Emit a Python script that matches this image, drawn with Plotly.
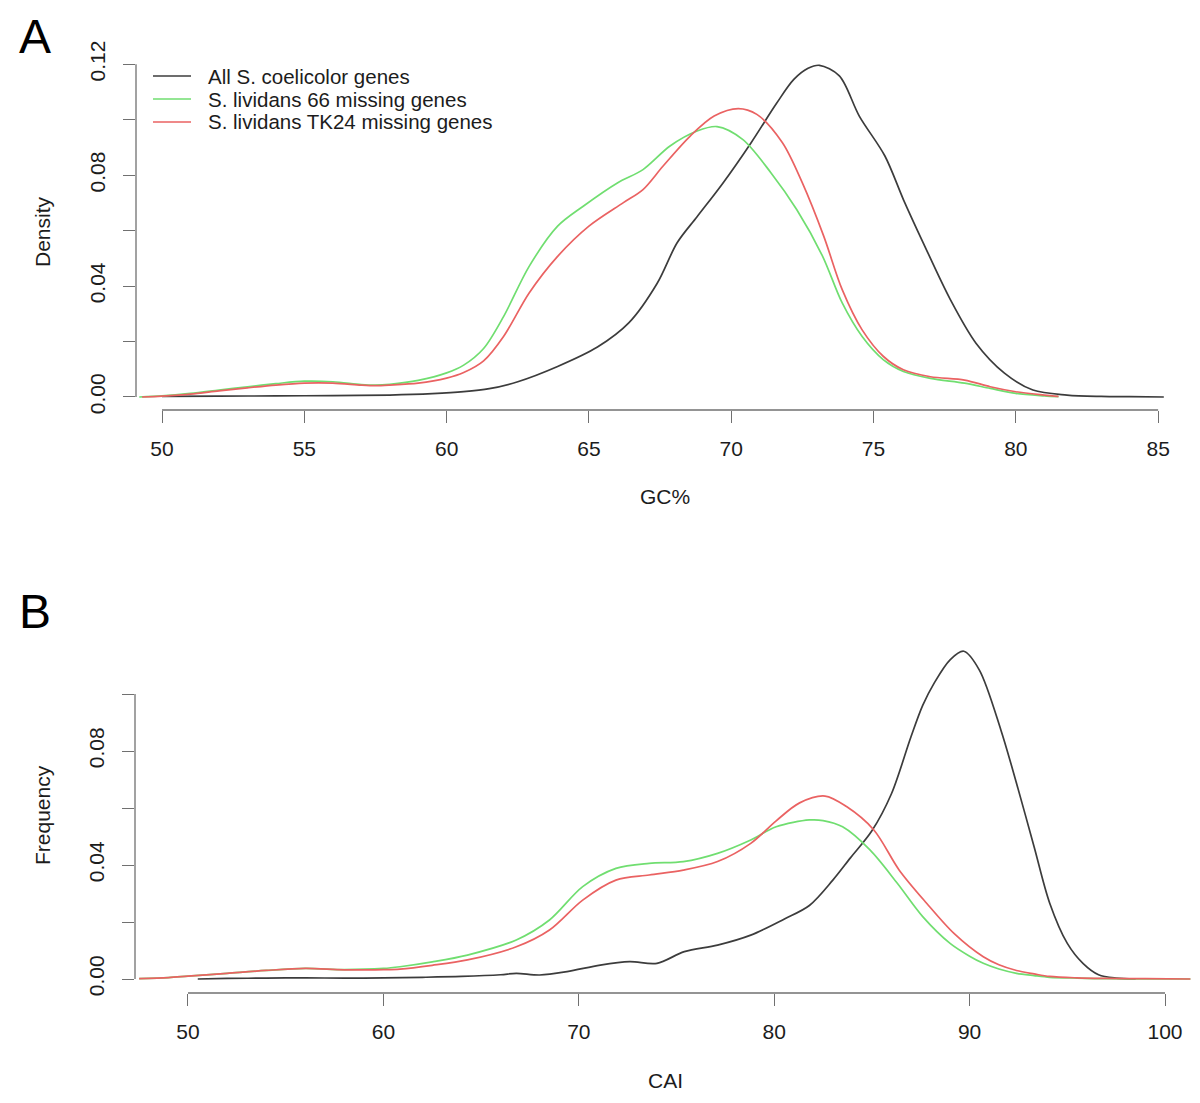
import plotly.graph_objects as go

# ---------------- Data ----------------
# Panel A: GC% density
gc_all_x = [50.0, 52, 54, 56, 58, 59.5, 60.6, 61.5, 62.5, 63.9, 65.3, 66.4, 67.4, 68.1, 68.8, 69.7,
            70.7, 71.6, 72.2, 72.7, 73.1, 73.8, 74.5, 75.4, 76.05, 76.75, 77.7, 78.6, 79.6, 80.6,
            81.8, 83.0, 84.0, 85.2]
gc_all_y = [0.0002, 0.0003, 0.0004, 0.0005, 0.0007, 0.0012, 0.0019, 0.003, 0.0055, 0.011, 0.018,
            0.0267, 0.041, 0.0556, 0.065, 0.077, 0.0917, 0.106, 0.1145, 0.1185, 0.1196, 0.1158,
            0.1013, 0.0869, 0.0712, 0.0555, 0.0351, 0.0194, 0.0086, 0.0025, 0.0007, 0.0002,
            0.0001, 0.0]

gc_66_x = [49.2, 50, 51, 52, 53, 54, 55, 56, 57, 57.5, 58, 59.0, 60.0, 60.6, 61.3, 62.0, 62.9,
           63.9, 64.8, 66.0, 66.9, 67.85, 68.8, 69.5, 70.4, 71.4, 72.3, 73.2, 73.9, 74.6, 75.35,
           76.05, 77.0, 78.2, 79.1, 80.0, 81.0, 81.5]
gc_66_y = [0.0, 0.0004, 0.0013, 0.0025, 0.0037, 0.0048, 0.0057, 0.0055, 0.0045, 0.0043, 0.0046,
           0.006, 0.0087, 0.0115, 0.0175, 0.029, 0.0471, 0.0616, 0.0688, 0.0772, 0.082, 0.0905,
           0.0959, 0.0975, 0.0929, 0.0808, 0.0676, 0.051, 0.0339, 0.0218, 0.0134, 0.0092,
           0.0067, 0.005, 0.0031, 0.0013, 0.0004, 0.0001]

gc_tk24_x = [49.3, 50, 51, 52, 53, 54, 55, 56, 57, 57.5, 58, 59.0, 60.0, 60.6, 61.3, 62.0, 62.9,
             63.9, 65.0, 66.2, 66.9, 67.6, 68.55, 69.4, 70.25, 70.9, 71.8, 72.5, 73.25, 73.9,
             74.6, 75.35, 76.05, 77.0, 78.2, 79.1, 80.0, 81.0, 81.5]
gc_tk24_y = [0.0, 0.0003, 0.001, 0.0022, 0.0033, 0.0043, 0.005, 0.005, 0.0043, 0.0041, 0.0043,
             0.005, 0.0068, 0.0088, 0.013, 0.0218, 0.0375, 0.0507, 0.0616, 0.070, 0.0748, 0.0832,
             0.094, 0.1013, 0.104, 0.1019, 0.0917, 0.0772, 0.058, 0.0387, 0.0242, 0.0146, 0.0098,
             0.0073, 0.0061, 0.0037, 0.0019, 0.0007, 0.0002]

# Panel B: CAI frequency
cai_all_x = [50.5, 52, 54, 56, 58, 60, 62, 64, 66, 66.8, 68, 69.4, 71.1, 72.6, 74.0, 75.4, 77.1,
             78.8, 80.5, 81.8, 83.0, 83.9, 85.0, 86.0, 87.0, 87.6, 88.2, 89.0, 89.7, 90.5, 91.6,
             92.4, 93.3, 94.1, 95.0, 95.8, 96.6, 97.5, 98.5]
cai_all_y = [0.0, 0.0002, 0.0003, 0.0004, 0.0003, 0.0004, 0.0006, 0.0009, 0.0015, 0.002, 0.0014,
             0.0026, 0.0049, 0.0061, 0.0055, 0.0096, 0.0119, 0.0154, 0.021, 0.0258, 0.0347,
             0.0425, 0.052, 0.065, 0.085, 0.096, 0.104, 0.112, 0.115, 0.1084, 0.0874, 0.0687,
             0.0464, 0.0266, 0.0125, 0.0055, 0.0015, 0.0003, 0.0]

cai_66_x = [47.5, 49, 50, 52, 54, 56, 58, 60, 60.85, 62.5, 64.3, 66.8, 68.5, 70.2, 71.9, 73.6,
            75.35, 77.1, 78.8, 80.1, 81.8, 82.5, 83.5, 84.9, 86.3, 87.6, 89.0, 90.0, 90.7, 91.5,
            92.4, 93.3, 94.1, 95.5, 97, 99, 101.3]
cai_66_y = [0.0001, 0.0005, 0.001, 0.002, 0.003, 0.0037, 0.0033, 0.0037, 0.0043, 0.006, 0.0084,
            0.0137, 0.0207, 0.0324, 0.0388, 0.0406, 0.0412, 0.0441, 0.0488, 0.0534, 0.0558,
            0.0556, 0.0534, 0.0453, 0.0336, 0.0219, 0.0125, 0.008, 0.0055, 0.0035, 0.002, 0.0012,
            0.0006, 0.0003, 0.0001, 0.00005, 0.0]

cai_tk24_x = [47.5, 49, 50, 52, 54, 56, 58, 60, 60.85, 62.5, 64.3, 66.8, 68.5, 70.2, 71.9, 73.6,
              75.35, 77.1, 78.8, 80.1, 81.3, 82.6, 83.7, 85.1, 86.4, 87.8, 89.2, 90.7, 91.5, 92.4,
              93.3, 94.1, 95.5, 97, 99, 101.3]
cai_tk24_y = [0.0001, 0.0005, 0.001, 0.002, 0.003, 0.0037, 0.0032, 0.0033, 0.0035, 0.0048,
              0.0067, 0.0113, 0.0172, 0.0277, 0.0347, 0.0365, 0.0382, 0.0412, 0.0476, 0.0555,
              0.0618, 0.0642, 0.0605, 0.0523, 0.0382, 0.0266, 0.016, 0.0078, 0.005, 0.003,
              0.0018, 0.0009, 0.0004, 0.0002, 0.0001, 0.0]

series_names = ["All S. coelicolor genes", "S. lividans 66 missing genes",
                "S. lividans TK24 missing genes"]
series_colors = ["#3c3c3c", "rgb(112,222,112)", "rgb(234,98,98)"]

gc_ticks = [50, 55, 60, 65, 70, 75, 80, 85]
density_ticks = [0.00, 0.02, 0.04, 0.06, 0.08, 0.10, 0.12]
density_labels = ["0.00", "", "0.04", "", "0.08", "", "0.12"]
cai_ticks = [50, 60, 70, 80, 90, 100]
freq_ticks = [0.00, 0.02, 0.04, 0.06, 0.08, 0.10]
freq_labels = ["0.00", "", "0.04", "", "0.08", ""]

# ---------------- Figure ----------------
OFF = 8                      # default page margin around the plot div
W, H = 1200 - 2 * OFF, 1103 - 2 * OFF
FONT = "Liberation Sans, Arial, Helvetica, sans-serif"
TXT = "#1c1c1c"
AXC = "#707070"

fig = go.Figure()

panelA = [(gc_all_x, gc_all_y), (gc_66_x, gc_66_y), (gc_tk24_x, gc_tk24_y)]
panelB = [(cai_all_x, cai_all_y), (cai_66_x, cai_66_y), (cai_tk24_x, cai_tk24_y)]

for (xs, ys), name, col in zip(panelA, series_names, series_colors):
    fig.add_trace(go.Scatter(x=xs, y=ys, mode="lines", name=name, xaxis="x", yaxis="y",
                             line=dict(color=col, width=1.7, shape="spline", smoothing=0.9),
                             showlegend=False))
for (xs, ys), name, col in zip(panelB, series_names, series_colors):
    fig.add_trace(go.Scatter(x=xs, y=ys, mode="lines", name=name, xaxis="x2", yaxis="y2",
                             line=dict(color=col, width=1.7, shape="spline", smoothing=0.9),
                             showlegend=False))


def px_x(p):
    return (p - OFF) / W


def px_y(p):
    return 1 - (p - OFF) / H


tickfont = dict(family=FONT, size=21, color=TXT)
common_axis = dict(showgrid=False, zeroline=False, showline=False, ticks="outside",
                   ticklen=12, tickwidth=1.3, tickcolor=AXC, tickfont=tickfont,
                   automargin=False, fixedrange=True)

fig.update_layout(
    width=W, height=H, autosize=False,
    margin=dict(l=0, r=0, t=0, b=0),
    paper_bgcolor="white", plot_bgcolor="white",
    font=dict(family=FONT, color=TXT),
    xaxis=dict(domain=[px_x(136), px_x(1190)], range=[49.086, 86.12],
               tickvals=gc_ticks, ticktext=[str(v) for v in gc_ticks],
               anchor="y", ticklabelstandoff=8, **common_axis),
    yaxis=dict(domain=[px_y(410), px_y(52)], range=[-0.00469, 0.1244],
               tickvals=density_ticks, ticktext=density_labels, tickangle=-90,
               anchor="x", ticklabelstandoff=10, **common_axis),
    xaxis2=dict(domain=[px_x(135), px_x(1191)], range=[47.288, 101.33],
                tickvals=cai_ticks, ticktext=[str(v) for v in cai_ticks],
                anchor="y2", ticklabelstandoff=8, **common_axis),
    yaxis2=dict(domain=[px_y(993), px_y(640)], range=[-0.004912, 0.11895],
                tickvals=freq_ticks, ticktext=freq_labels, tickangle=-90,
                anchor="x2", ticklabelstandoff=10, **common_axis),
)

# R-style axis lines spanning first..last tick
axl = dict(color=AXC, width=1.3)
fig.add_shape(type="line", xref="x", yref="y domain", x0=gc_ticks[0], x1=gc_ticks[-1],
              y0=0, y1=0, line=axl)
fig.add_shape(type="line", xref="x domain", yref="y", x0=0, x1=0,
              y0=density_ticks[0], y1=density_ticks[-1], line=axl)
fig.add_shape(type="line", xref="x2", yref="y2 domain", x0=cai_ticks[0], x1=cai_ticks[-1],
              y0=0, y1=0, line=axl)
fig.add_shape(type="line", xref="x2 domain", yref="y2", x0=0, x1=0,
              y0=freq_ticks[0], y1=freq_ticks[-1], line=axl)

labfont = dict(family=FONT, size=21, color=TXT)
legfont = dict(family=FONT, size=20.5, color=TXT)
ann = [
    dict(text="A", x=px_x(17), y=px_y(36), xanchor="left", yanchor="middle",
         font=dict(family=FONT, size=48, color="black")),
    dict(text="B", x=px_x(17), y=px_y(611), xanchor="left", yanchor="middle",
         font=dict(family=FONT, size=48, color="black")),
    dict(text="Density", x=px_x(42), y=px_y(232), textangle=-90, xanchor="center",
         yanchor="middle", font=labfont),
    dict(text="GC%", x=px_x(665), y=px_y(496), xanchor="center", yanchor="middle", font=labfont),
    dict(text="Frequency", x=px_x(42), y=px_y(815), textangle=-90, xanchor="center",
         yanchor="middle", font=labfont),
    dict(text="CAI", x=px_x(665), y=px_y(1080), xanchor="center", yanchor="middle", font=labfont),
]

# Legend (panel A, top-left)
leg_y = [76, 99, 122]
for name, col, yy in zip(series_names, series_colors, leg_y):
    fig.add_shape(type="line", xref="paper", yref="paper", x0=px_x(153), x1=px_x(191),
                  y0=px_y(yy), y1=px_y(yy), line=dict(color=col, width=1.7))
    ann.append(dict(text=name, x=px_x(208), y=px_y(yy), xanchor="left", yanchor="middle",
                    font=legfont, borderpad=0, borderwidth=0))

for a in ann:
    a.update(xref="paper", yref="paper", showarrow=False)
fig.update_layout(annotations=ann)

fig.write_html("out.html")
